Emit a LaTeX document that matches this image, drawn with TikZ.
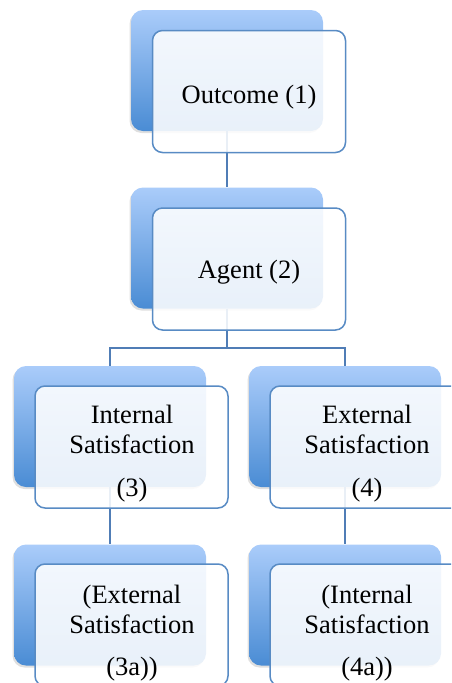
\documentclass[tikz,border=0pt]{standalone}
\usepackage{fontspec}
\setmainfont{Liberation Serif}
\usetikzlibrary{shadows}
\definecolor{backtop}{RGB}{170,204,250}
\definecolor{backbot}{RGB}{74,140,212}
\definecolor{frontborder}{RGB}{88,139,196}
\definecolor{linkcol}{RGB}{80,125,182}
\tikzset{
  backbox/.style={draw=none, rounded corners=12pt, top color=backtop, bottom color=backbot,
    minimum width=192pt, minimum height=121pt, inner sep=0pt,
    drop shadow={opacity=0.25, shadow xshift=-1.5pt, shadow yshift=-2pt}},
  frontbox/.style={draw=frontborder, line width=1.5pt, rounded corners=10pt, fill=white,
    fill opacity=0.88, draw opacity=1, minimum width=193pt, minimum height=122pt, inner sep=0pt},
  txt/.style={font=\fontsize{26.5}{30}\selectfont, align=center, inner sep=0pt},
  link/.style={draw=linkcol, line width=1.8pt}
}
\begin{document}
\begin{tikzpicture}[x=1pt,y=-1pt]
\useasboundingbox (0,0) rectangle (451,683);
\clip (0,0) rectangle (451,683);
% back boxes
\node[backbox] (b1) at (227,70.5) {};
\node[backbox] (b2) at (227,248) {};
\node[backbox] (b3l) at (110,426.5) {};
\node[backbox] (b3r) at (345,426.5) {};
\node[backbox] (b4l) at (110,605) {};
\node[backbox] (b4r) at (345,605) {};
% connectors
\coordinate (j) at (227,348);
\draw[link] (b1.south) -- (b2.north);
\draw[link] (b2.south) -- (j) -| (b3l.north);
\draw[link] (j) -| (b3r.north);
\draw[link] (b3l.south) -- (b4l.north);
\draw[link] (b3r.south) -- (b4r.north);
% front boxes
\node[frontbox] (f1) at (249,91.5) {};
\node[frontbox] (f2) at (249,269) {};
\node[frontbox] (f3l) at (131.5,447) {};
\node[frontbox] (f3r) at (366.5,447) {};
\node[frontbox] (f4l) at (131.5,625) {};
\node[frontbox] (f4r) at (366.5,625) {};
% texts
\node[txt] (t1) at (249,97) {Outcome (1)};
\node[txt] (t2) at (249,272) {Agent (2)};
\node[txt] (t3l) at (132,454) {Internal\\Satisfaction\\[13pt](3)};
\node[txt] (t3r) at (367,454) {External\\Satisfaction\\[13pt](4)};
\node[txt] (t4l) at (132,633) {(External\\Satisfaction\\[12pt](3a))};
\node[txt] (t4r) at (367,633) {(Internal\\Satisfaction\\[12pt](4a))};
\end{tikzpicture}
\end{document}
